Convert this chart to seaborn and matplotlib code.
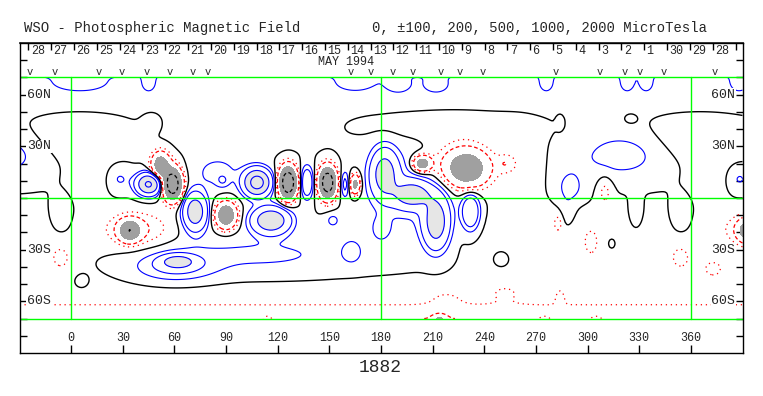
import numpy as np
import matplotlib
matplotlib.use("Agg")
import matplotlib.pyplot as plt
import seaborn as sns

sns.set_theme(style="white")
plt.rcParams["font.family"] = ["Liberation Mono", "DejaVu Sans Mono"]

# field sources (lon deg, lat deg, peak microtesla, width lon, width lat)
# sources near the map edges are listed twice (lon and lon +/- 360), as on the chart
src_lon   = [180, 180,
             52, 59, 45, 28, 388, 34, 394, 38, 398, 72, 90, 62, 60,
             108, 116, 126, 137, 149, 159, 165, 88, 85, 152, 163, 180,
             182, 198, 212, 204, 230, 222, 232, 195,
             100, 215, 260, 252, 5, 365, 12, 372, 110, 300, -60,
             320, -40, 290, 290, 310, 283, 302, 354, -6, 373, 314, 6, 250, 47, 284, 325,
             288, 328, 354, -6,
             5, 388, 45, 165, 190, 212, 276, 323, 334,
             114, 275, 305, 252, 218, 284, 214]
src_lat   = [88, -88,
             19, 8, 8, 11, 11, -19, -19, -18, -18, -8, -10, -37, -40,
             9, -13, 9, 9, 9, 8, 8, 10, 15, -13, -31, -18,
             14, 2, -14, 20, 17, 20, -8, 5,
             40, 42, 20, 20, 35, 35, 12, 12, -33, -22, -22,
             25, 25, 12, 6, 4, -14, -26, -35, -35, -41, -26, -49, -35, 44, 44, 46,
             -8, -10, -10, -10,
             65, 65, 65, 65, 64, 64, 65, 65, 65,
             -72, -72, -72, -54, -57, -57, -73]
src_field = [156, -375,
             -800, -1500, 1100, 115, 115, -800, -800, -220, -220, 800, -900, 650, 220,
             1300, 900, -1600, 450, -1500, 250, -650, 130, 140, 130, 120, 120,
             700, 700, 750, -750, -800, -150, 450, 140,
             50, -70, -80, -120, -70, -70, -60, -60, 120, -55, -55,
             160, 160, 70, 130, -130, -115, -115, -115, -115, -115, 60, 50, 50, -50, -40, -40,
             80, 70, 80, 80,
             60, 60, 60, 55, 60, 60, 60, 60, 60,
             150, 150, 150, -70, -50, -80, -800]
src_wlon  = [1e4, 1e4,
             3.5, 3.5, 4.5, 5, 5, 4, 4, 13, 13, 4.5, 4, 6, 16,
             5, 7, 3.3, 2.5, 3.3, 1.8, 2, 2.5, 10, 3, 4, 4,
             5, 7, 5, 3.5, 8, 14, 3.5, 18,
             30, 32, 9, 3, 22, 22, 8, 8, 40, 45, 45,
             16, 16, 8, 3.5, 3, 2, 2.5, 5, 5, 6, 3, 3, 3, 4, 1.5, 2.5,
             3, 3, 4, 4,
             12, 4, 3, 9, 6, 6, 3, 3, 3,
             4, 5, 5, 8, 8, 2, 2.5]
src_wlat  = [18, 16,
             5, 6, 4, 5, 5, 4, 4, 7, 7, 7, 5, 2.5, 6,
             5, 5, 6, 6, 6, 5, 4, 2.5, 7, 3, 5, 5,
             9, 5, 10, 3, 7, 9, 7, 18,
             8, 6, 13, 3, 9, 9, 8, 8, 8, 12, 12,
             9, 9, 12, 4, 6, 4, 5, 6, 6, 5, 4, 3, 3, 4, 3, 2,
             7, 7, 7, 7,
             3.5, 3.5, 3.5, 3.5, 3.5, 3.5, 3.5, 3.5, 3.5,
             3, 3, 3, 4, 4, 4, 2.5]

lon_ticks = list(range(0, 361, 30))
lat_labels = {60: "60N", 30: "30N", -30: "30S", -60: "60S"}
day_labels = [28, 27, 26, 25, 24, 23, 22, 21, 20, 19, 18, 17, 16, 15, 14, 13, 12,
              11, 10, 9, 8, 7, 6, 5, 4, 3, 2, 1, 30, 29, 28]
day_start_lon = -24.8
day_step = 13.25
obs_lon = [-23.8, -9.3, 16.3, 29.6, 44.1, 57.5, 70.8, 79.6, 162.6, 174.2, 187,
           198.6, 214.9, 225.9, 239.3, 281.6, 307.2, 321.7, 330.4, 344.4, 374]
rotation = "1882"

lon = np.arange(-30, 390.5, 1.0)
lat = np.arange(-70, 70.25, 0.5)
LON, LAT = np.meshgrid(lon, lat)
field = np.zeros_like(LON)
for lo, la, b, wlo, wla in zip(src_lon, src_lat, src_field, src_wlon, src_wlat):
    field += b * np.exp(-0.5 * (((LON - lo) / wlo) ** 2 + ((LAT - la) / wla) ** 2))

fig = plt.figure(figsize=(7.63, 3.96), dpi=100)
W, H = 763, 396
ax = fig.add_axes([19.5 / W, 1 - 353 / H, 723 / W, 310 / H])
ax.set_xlim(-30, 390)
ax.set_ylim(-90, 90)

ax.contourf(LON, LAT, field, levels=[500, 1e6], colors=["#e6e6e6"])
ax.contourf(LON, LAT, field, levels=[-1e6, -500], colors=["#a0a0a0"])
ax.contour(LON, LAT, field, levels=[100, 200, 500, 1000, 2000], colors="blue", linewidths=0.8)
ax.contour(LON, LAT, field, levels=[-100], colors="red", linewidths=0.9,
           linestyles=[(0, (1, 3))])
ax.contour(LON, LAT, field, levels=[-200], colors="red", linewidths=0.9,
           linestyles=[(0, (3, 2))])
ax.contour(LON, LAT, field, levels=[-2000, -1000], colors="black", linewidths=0.9,
           linestyles=[(0, (3, 2))])
ax.contour(LON, LAT, field, levels=[0], colors="black", linewidths=1.0)

green = "#00ff00"
for y in (70, 0, -70):
    ax.axhline(y, color=green, lw=1.0)
for x in (0, 180, 360):
    ax.plot([x, x], [-70, 70], color=green, lw=1.0)

for sp in ax.spines.values():
    sp.set_color("black")
    sp.set_linewidth(1.0)
ax.set_xticks(lon_ticks)
ax.set_xticklabels([])
ax.set_yticks(np.arange(-80, 81, 10))
ax.set_yticklabels([])
ax.tick_params(axis="x", direction="in", length=6, width=1, color="black", bottom=True)
ax.tick_params(axis="y", direction="in", length=5, width=1, color="black",
               left=True, right=True)

# carrington day ticks on the top edge
day_ticks = day_start_lon + day_step * np.arange(len(day_labels) + 1)
top = ax.secondary_xaxis("top")
top.set_xticks(day_ticks)
top.set_xticklabels([])
top.tick_params(direction="in", length=5, width=1, color="black")
for t, d in zip(day_ticks, day_labels):
    ax.text(t + 1.3, 85.5, str(d), fontsize=8.5, ha="left", va="center")
ax.text(159.5, 79, "MAY 1994", fontsize=8.5, ha="center", va="center")
for o in obs_lon:
    ax.text(o, 73.2, "v", fontsize=7.5, ha="center", va="center")

box = dict(facecolor="white", edgecolor="none", pad=0.5)
for la, s in lat_labels.items():
    ax.text(-25.6, la, s, fontsize=9.5, ha="left", va="center", bbox=box)
    ax.text(385.8, la, s, fontsize=9.5, ha="right", va="center", bbox=box)
for lt in lon_ticks:
    ax.text(lt, -81.3, str(lt), fontsize=8.5, ha="center", va="center")

fig.text(24 / W, 1 - 28 / H, "WSO - Photospheric Magnetic Field", fontsize=10,
         ha="left", va="center")
fig.text(372 / W, 1 - 28 / H, "0, \u00b1100, 200, 500, 1000, 2000 MicroTesla",
         fontsize=10, ha="left", va="center")
fig.text(380 / W, 1 - 367 / H, rotation, fontsize=13, ha="center", va="center")

fig.savefig("out.png", dpi=100)
